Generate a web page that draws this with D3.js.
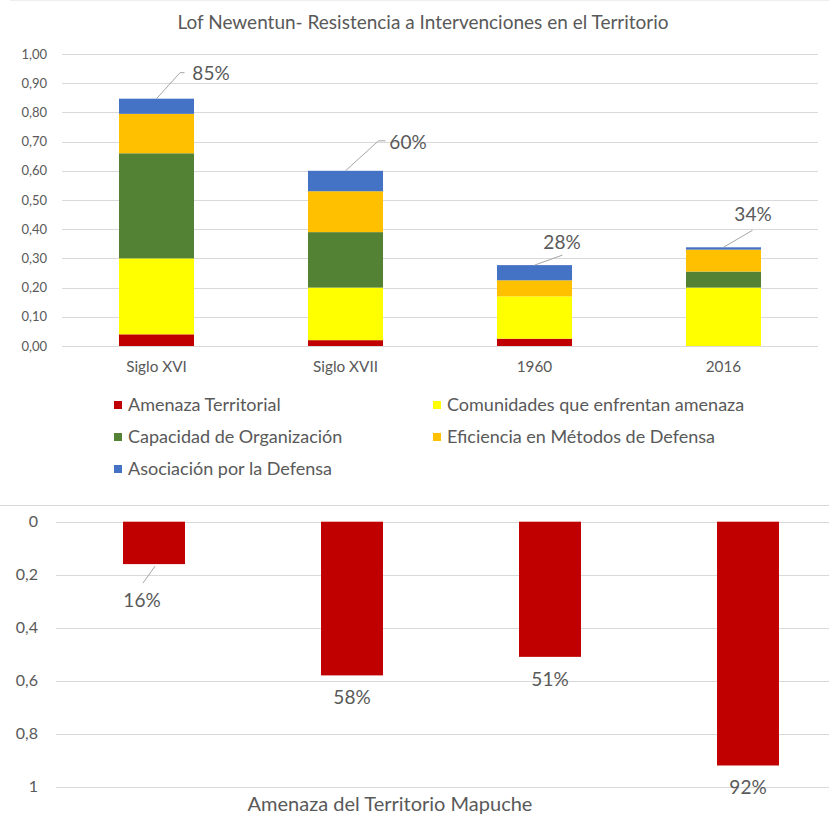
<!DOCTYPE html>
<html>
<head>
<meta charset="utf-8">
<script src="https://cdn.jsdelivr.net/npm/d3@7/dist/d3.min.js"></script>
<style>
  html, body { margin: 0; padding: 0; background: #ffffff; }
  svg { display: block; }
  text { font-family: Lato, "Liberation Sans", sans-serif; fill: #595959; }
</style>
</head>
<body>
<svg id="chart" width="829" height="816"></svg>
<script>
// ---- Data: upper stacked chart ----
const periods = ["Siglo XVI", "Siglo XVII", "1960", "2016"];
const seriesNames = [
  "Amenaza Territorial",
  "Comunidades que enfrentan amenaza",
  "Capacidad de Organización",
  "Eficiencia en Métodos de Defensa",
  "Asociación por la Defensa"
];
const seriesColors = ["#C00000", "#FFFF00", "#548235", "#FFC000", "#4472C4"];
const amenazaTerritorial   = [0.040, 0.020, 0.025, 0.000];
const comunidades          = [0.260, 0.180, 0.145, 0.200];
const capacidad            = [0.360, 0.190, 0.000, 0.055];
const eficiencia           = [0.135, 0.140, 0.055, 0.075];
const asociacion           = [0.052, 0.070, 0.052, 0.008];
const topTicks = [0, 0.1, 0.2, 0.3, 0.4, 0.5, 0.6, 0.7, 0.8, 0.9, 1.0];

// ---- Data: lower chart ----
const amenazaMapuche = [0.16, 0.58, 0.51, 0.92];
const bottomTicks = [0, 0.2, 0.4, 0.6, 0.8, 1];

const svg = d3.select("#chart");
const fmtComma = d => d3.format(".2f")(d).replace(".", ",");
const fmtShort = d => String(d).replace(".", ",");
const pct = v => Math.round(v * 100) + "%";
const FONT = "Lato, 'Liberation Sans', sans-serif";

// Frame lines
svg.append("line").attr("x1", 10).attr("x2", 829).attr("y1", 0.5).attr("y2", 0.5)
  .attr("stroke", "#eeeeee");
svg.append("line").attr("x1", 0).attr("x2", 829).attr("y1", 505.5).attr("y2", 505.5)
  .attr("stroke", "#d9d9d9");

// ---------- Upper chart ----------
svg.append("text").attr("x", 423).attr("y", 22).attr("dy", "0.35em")
  .attr("text-anchor", "middle").style("font-size", "19px")
  .text("Lof Newentun- Resistencia a Intervenciones en el Territorio");

const x1 = d3.scaleBand().domain(periods).range([62, 818]).paddingInner(0.603).paddingOuter(0.3015);
const y1 = d3.scaleLinear().domain([0, 1]).range([346, 54]);

const gTop = svg.append("g");
gTop.selectAll("line.grid").data(topTicks).join("line")
  .attr("x1", 62).attr("x2", 818)
  .attr("y1", d => Math.round(y1(d)) + 0.5).attr("y2", d => Math.round(y1(d)) + 0.5)
  .attr("stroke", "#d9d9d9").attr("stroke-width", 1);

const yAxisTop = d3.axisLeft(y1).tickValues(topTicks).tickFormat(fmtComma).tickSize(0).tickPadding(0);
const gyTop = gTop.append("g").attr("transform", "translate(47,0)").call(yAxisTop);
gyTop.select(".domain").remove();
gyTop.selectAll("text").style("font-size", "13px").style("fill", "#595959").style("font-family", FONT);

const xAxisTop = d3.axisBottom(x1).tickSize(0).tickPadding(0);
const gxTop = gTop.append("g").attr("transform", "translate(0,361)").call(xAxisTop);
gxTop.select(".domain").remove();
gxTop.selectAll("text").style("font-size", "15.3px").style("fill", "#595959").style("font-family", FONT);

const rows = periods.map((p, i) => ({
  period: p,
  s0: amenazaTerritorial[i], s1: comunidades[i], s2: capacidad[i], s3: eficiencia[i], s4: asociacion[i]
}));
const stack = d3.stack().keys(["s0", "s1", "s2", "s3", "s4"]);
const layers = stack(rows);

gTop.selectAll("g.layer").data(layers).join("g")
  .attr("fill", (d, i) => seriesColors[i])
  .selectAll("rect").data(d => d).join("rect")
  .attr("x", d => x1(d.data.period))
  .attr("width", x1.bandwidth())
  .attr("y", d => y1(d[1]))
  .attr("height", d => Math.max(0, y1(d[0]) - y1(d[1])));

// Total labels with leader lines
const totals = rows.map(r => r.s0 + r.s1 + r.s2 + r.s3 + r.s4);
const topLabelPos = [
  { leader: [[0, 0], [23.5, -26], [28, -26]], dx: 54.5, dy: -25 },
  { leader: [[0, 0], [33, -30], [40, -30]], dx: 62.5, dy: -28 },
  { leader: [[0, 0], [28, -10]], dx: 27.5, dy: -23 },
  { leader: [[0, 0], [29, -17]], dx: 29.5, dy: -33 }
];
periods.forEach((p, i) => {
  const cx = x1(p) + x1.bandwidth() / 2;
  const cy = y1(totals[i]);
  const pos = topLabelPos[i];
  gTop.append("path")
    .attr("d", d3.line()(pos.leader.map(([a, b]) => [cx + a, cy + b])))
    .attr("fill", "none").attr("stroke", "#a6a6a6").attr("stroke-width", 1);
  gTop.append("text").attr("x", cx + pos.dx).attr("y", cy + pos.dy).attr("dy", "0.35em")
    .attr("text-anchor", "middle").style("font-size", "19px").text(pct(totals[i]));
});

// Legend
const legendPos = [[114, 405], [433, 405], [114, 437], [433, 437], [114, 469]];
const legend = svg.append("g");
seriesNames.forEach((name, i) => {
  const [lx, ly] = legendPos[i];
  legend.append("rect").attr("x", lx).attr("y", ly - 4).attr("width", 8).attr("height", 8)
    .attr("fill", seriesColors[i]);
  legend.append("text").attr("x", lx + 14).attr("y", ly).attr("dy", "0.35em")
    .style("font-size", "18px").text(name);
});

// ---------- Lower chart ----------
const x2 = d3.scaleBand().domain(periods).range([55, 847]).paddingInner(0.687).paddingOuter(0.3435);
const y2 = d3.scaleLinear().domain([0, 1]).range([521.7, 786.7]);

const gBot = svg.append("g");
gBot.selectAll("line.grid").data(bottomTicks).join("line")
  .attr("x1", 56).attr("x2", 829)
  .attr("y1", d => Math.round(y2(d)) + 0.5).attr("y2", d => Math.round(y2(d)) + 0.5)
  .attr("stroke", "#d9d9d9").attr("stroke-width", 1);

const yAxisBot = d3.axisLeft(y2).tickValues(bottomTicks).tickFormat(fmtShort).tickSize(0).tickPadding(0);
const gyBot = gBot.append("g").attr("transform", "translate(38,0)").call(yAxisBot);
gyBot.select(".domain").remove();
gyBot.selectAll("text").style("font-size", "16px").style("fill", "#595959").style("font-family", FONT);

gBot.selectAll("rect.bar").data(amenazaMapuche).join("rect")
  .attr("x", (d, i) => x2(periods[i]))
  .attr("width", x2.bandwidth())
  .attr("y", y2(0))
  .attr("height", d => y2(d) - y2(0))
  .attr("fill", "#C00000");

amenazaMapuche.forEach((v, i) => {
  const cx = x2(periods[i]) + x2.bandwidth() / 2;
  const cy = y2(v);
  if (i === 0) {
    gBot.append("line").attr("x1", cx + 1).attr("y1", cy + 2).attr("x2", cx - 11).attr("y2", cy + 19)
      .attr("stroke", "#a6a6a6").attr("stroke-width", 1);
    gBot.append("text").attr("x", cx - 12).attr("y", cy + 36).attr("dy", "0.35em")
      .attr("text-anchor", "middle").style("font-size", "19px").text(pct(v));
  } else {
    gBot.append("text").attr("x", cx).attr("y", cy + 22).attr("dy", "0.35em")
      .attr("text-anchor", "middle").style("font-size", "19px").text(pct(v));
  }
});

svg.append("text").attr("x", 390).attr("y", 804).attr("dy", "0.35em")
  .attr("text-anchor", "middle").style("font-size", "20px")
  .text("Amenaza del Territorio Mapuche");
</script>
</body>
</html>
